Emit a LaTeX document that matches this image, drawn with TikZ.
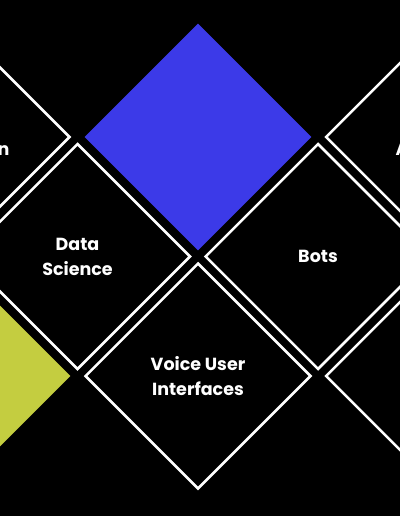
\documentclass[tikz,border=0pt]{standalone}
\usepackage{fontspec}
\setmainfont{Poppins}
\usetikzlibrary{shapes.geometric}
\definecolor{tileblue}{RGB}{60,58,232}
\definecolor{tilegreen}{RGB}{196,205,64}
\tikzset{
  tile/.style={diamond,aspect=1,minimum width=226pt,minimum height=226pt,inner sep=0pt,
    draw=white,line width=2.5pt,text=white,align=center,
    font=\bfseries\fontsize{17.5}{25}\selectfont},
  blocktile/.style={diamond,aspect=1,minimum width=227pt,minimum height=227pt,inner sep=0pt},
  cutlabel/.style={inner sep=0pt,text=white,font=\bfseries\fontsize{17.5}{25}\selectfont}
}
\begin{document}
\begin{tikzpicture}[x=1pt,y=-1pt]
  \useasboundingbox (0,0) rectangle (400,516);
  \fill[black] (0,0) rectangle (400,516);
  % top row
  \node[tile] (left) at (-43,137) {};
  \node[blocktile,fill=tileblue] (blue) at (198,137) {};
  \node[tile] (right) at (438.5,137) {};
  % middle row
  \node[tile] (data) at (77.5,256.5) {Data\\Science};
  \node[tile] (bots) at (318,256.5) {Bots};
  % bottom row
  \node[blocktile,fill=tilegreen] (green) at (-43,376) {};
  \node[tile] (voice) at (198,376) {Voice User\\Interfaces};
  \node[tile] (corner) at (438.5,376) {};
  % labels cut by the edge
  \node[cutlabel,anchor=base east] (leftlabel) at (9.5,155) {n};
  \node[cutlabel,anchor=base west] (rightlabel) at (395.5,155) {A};
\end{tikzpicture}
\end{document}
